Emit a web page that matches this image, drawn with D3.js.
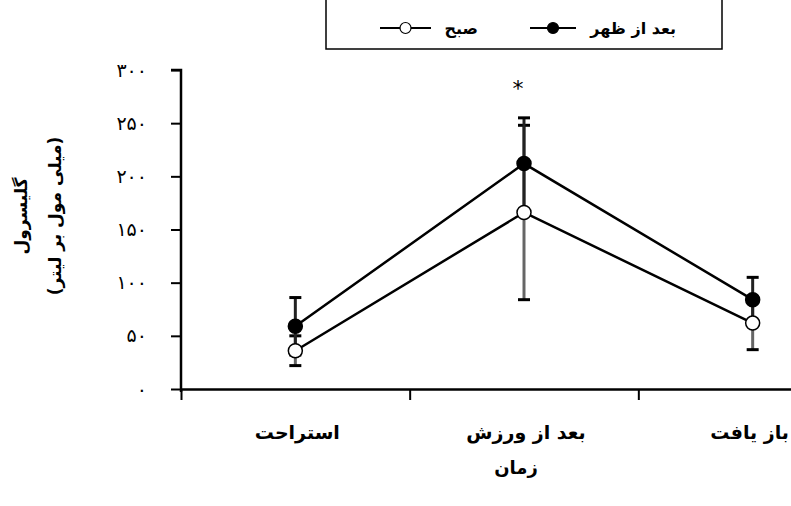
<!DOCTYPE html>
<html>
<head>
<meta charset="utf-8">
<script src="https://cdn.jsdelivr.net/npm/d3@7"></script>
<style>
  body { margin: 0; background: #fff; }
  text { font-family: "DejaVu Sans", sans-serif; }
</style>
</head>
<body>
<script>
// داده ها
var categories = ["استراحت", "بعد از ورزش", "باز یافت"];
var afternoon = [59, 212, 84];        // بعد از ظهر
var afternoonErr = [27, 43, 21];
var morning = [36, 166, 62];          // صبح
var morningErr = [14, 82, 25];
var yTicks = [0, 50, 100, 150, 200, 250, 300];
var yTickLabels = ["۰", "۵۰", "۱۰۰", "۱۵۰", "۲۰۰", "۲۵۰", "۳۰۰"];
var seriesNames = ["بعد از ظهر", "صبح"];

var width = 791;
var height = 506;

var svg = d3.select("body").append("svg")
    .attr("width", width)
    .attr("height", height);

var escalaX = d3.scaleLinear()
    .domain([0, categories.length])
    .range([181, 867]);

var escalaY = d3.scaleLinear()
    .domain([0, 300])
    .range([389, 70]);

// eje Y
var ejeY = d3.axisLeft(escalaY)
    .tickValues(yTicks)
    .tickSize(10)
    .tickPadding(24)
    .tickFormat(function(d, i){ return yTickLabels[i]; });

var gY = svg.append("g")
    .attr("transform", "translate(" + escalaX(0) + ",0)")
    .call(ejeY);
gY.select(".domain").attr("stroke-width", 2.5).attr("d", "M-10,70H0V392");
gY.selectAll(".tick line").attr("stroke-width", 2);
gY.selectAll(".tick text")
    .style("font-size", "19px")
    .style("letter-spacing", "3px")
    .attr("fill", "#000");

// eje X
var ejeX = d3.axisBottom(escalaX)
    .tickValues(d3.range(categories.length + 1))
    .tickSize(11)
    .tickSizeOuter(0)
    .tickFormat("");

var gX = svg.append("g")
    .attr("transform", "translate(0," + escalaY(0) + ")")
    .call(ejeX);
gX.select(".domain").attr("stroke-width", 2.5);
gX.selectAll(".tick line").attr("stroke-width", 2);

svg.selectAll(".cat-label")
    .data(categories)
    .join("text")
    .attr("class", "cat-label")
    .attr("x", function(d, i){ return escalaX(i + 0.5) + 2; })
    .attr("y", 439)
    .attr("text-anchor", "middle")
    .style("font-size", "19px")
    .style("font-weight", "bold")
    .text(function(d){ return d; })
    .each(function() {
        // que la ultima etiqueta no se corte en el borde
        var ancho = this.getComputedTextLength();
        var x = +d3.select(this).attr("x");
        if (x + ancho / 2 > width - 2) d3.select(this).attr("x", width - 2 - ancho / 2);
    });

svg.append("text")
    .attr("x", 516)
    .attr("y", 474)
    .attr("text-anchor", "middle")
    .style("font-size", "18px")
    .style("font-weight", "bold")
    .text("زمان");

// titulo eje Y
var tituloY = svg.append("g")
    .attr("transform", "translate(0,216) rotate(-90)");
tituloY.append("text")
    .attr("x", 0).attr("y", 27)
    .attr("text-anchor", "middle")
    .style("font-size", "17px")
    .style("font-weight", "bold")
    .text("گلیسرول");
tituloY.append("text")
    .attr("x", 0).attr("y", 61)
    .attr("text-anchor", "middle")
    .style("font-size", "17px")
    .style("font-weight", "bold")
    .text("(میلی مول بر لیتر)");

// barras de error
var series = [
    { valores: morning, errores: morningErr, relleno: "#fff", color: "#666" },
    { valores: afternoon, errores: afternoonErr, relleno: "#000", color: "#222" }
];

series.forEach(function(s) {
    var g = svg.append("g");
    g.selectAll("line.stem")
        .data(s.valores)
        .join("line")
        .attr("class", "stem")
        .attr("x1", function(d, i){ return escalaX(i + 0.5); })
        .attr("x2", function(d, i){ return escalaX(i + 0.5); })
        .attr("y1", function(d, i){ return escalaY(d - s.errores[i]); })
        .attr("y2", function(d, i){ return escalaY(d + s.errores[i]); })
        .attr("stroke", s.color)
        .attr("stroke-width", 3);
    [-1, 1].forEach(function(signo) {
        g.selectAll("line.cap" + signo)
            .data(s.valores)
            .join("line")
            .attr("x1", function(d, i){ return escalaX(i + 0.5) - 6; })
            .attr("x2", function(d, i){ return escalaX(i + 0.5) + 6; })
            .attr("y1", function(d, i){ return escalaY(d + signo * s.errores[i]); })
            .attr("y2", function(d, i){ return escalaY(d + signo * s.errores[i]); })
            .attr("stroke", "#000")
            .attr("stroke-width", 3);
    });
});

// lineas y puntos
var linea = d3.line()
    .x(function(d, i){ return escalaX(i + 0.5); })
    .y(function(d){ return escalaY(d); });

series.forEach(function(s) {
    svg.append("path")
        .attr("d", linea(s.valores))
        .attr("fill", "none")
        .attr("stroke", "#000")
        .attr("stroke-width", 2.5);
});
series.forEach(function(s) {
    svg.append("g").selectAll("circle")
        .data(s.valores)
        .join("circle")
        .attr("cx", function(d, i){ return escalaX(i + 0.5); })
        .attr("cy", function(d){ return escalaY(d); })
        .attr("r", 7)
        .attr("fill", s.relleno)
        .attr("stroke", "#000")
        .attr("stroke-width", 1.5);
});

// asterisco
svg.append("text")
    .attr("x", escalaX(1.5) - 6)
    .attr("y", 96)
    .attr("text-anchor", "middle")
    .style("font-size", "22px")
    .text("*");

// leyenda
var leyenda = svg.append("g");
leyenda.append("rect")
    .attr("x", 326).attr("y", -5)
    .attr("width", 396).attr("height", 54)
    .attr("fill", "#fff")
    .attr("stroke", "#000")
    .attr("stroke-width", 1.5);

var itemsLeyenda = [
    { nombre: seriesNames[0], relleno: "#000", x0: 530, x1: 576, tx: 676 },
    { nombre: seriesNames[1], relleno: "#fff", x0: 380, x1: 431, tx: 478 }
];
itemsLeyenda.forEach(function(d) {
    leyenda.append("line")
        .attr("x1", d.x0).attr("x2", d.x1)
        .attr("y1", 28).attr("y2", 28)
        .attr("stroke", "#000").attr("stroke-width", 2);
    leyenda.append("circle")
        .attr("cx", (d.x0 + d.x1) / 2).attr("cy", 28)
        .attr("r", 5.5)
        .attr("fill", d.relleno)
        .attr("stroke", "#000").attr("stroke-width", 1.2);
    leyenda.append("text")
        .attr("x", d.tx).attr("y", 34)
        .attr("text-anchor", "end")
        .style("font-size", "16px")
        .style("font-weight", "bold")
        .text(d.nombre);
});
</script>
</body>
</html>
